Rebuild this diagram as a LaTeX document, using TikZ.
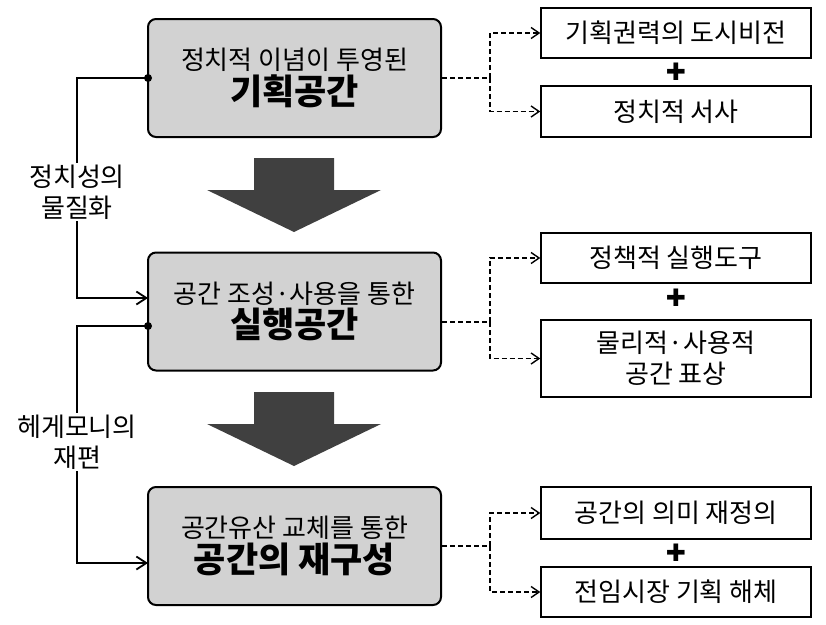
\documentclass[tikz,border=0pt]{standalone}
\usepackage{fontspec}
\setmainfont{Noto Sans CJK KR}
\newfontfamily\djv{DejaVu Sans}
\usetikzlibrary{arrows.meta}
\begin{document}
\begin{tikzpicture}[x=1pt,y=-1pt,
 main/.style={draw=black,line width=2pt,fill=gray!35,rounded corners=8pt,minimum width=293pt,minimum height=118pt,align=center,inner sep=0pt},
 side/.style={draw=black,line width=1.4pt,fill=white,minimum width=270pt,align=center,font=\fontsize{26}{31}\selectfont,inner sep=2pt},
 dline/.style={line width=1.4pt,dash pattern=on 5pt off 3pt},
 darr/.style={dline,-{Straight Barb[length=8pt,width=11pt]}},
 sline/.style={line width=1.8pt,-{Straight Barb[length=10pt,width=13pt]}},
 big/.style={fill=black!75},
 plus/.style={font=\djv\fontsize{24}{24}\selectfont,inner sep=0pt},
 lab/.style={fill=white,align=center,font=\fontsize{26}{31}\selectfont,inner sep=2pt}]
\useasboundingbox (0,0) rectangle (826,624);
\node[main] (b1) at (294.5,78) {\fontsize{26}{31}\selectfont 정치적 이념이 투영된\\[2pt]\fontsize{35}{38}\selectfont\bfseries 기획공간};
\node[main] (b2) at (294.5,311.5) {\fontsize{26}{31}\selectfont 공간 조성·사용을 통한\\[2pt]\fontsize{35}{38}\selectfont\bfseries 실행공간};
\node[main] (b3) at (294.5,546) {\fontsize{26}{31}\selectfont 공간유산 교체를 통한\\[2pt]\fontsize{35}{38}\selectfont\bfseries 공간의 재구성};
\node[side,minimum height=50pt] (r1) at (676,33) {기획권력의 도시비전};
\node[side,minimum height=51pt] (r2) at (676,111.5) {정치적 서사};
\node[side,minimum height=50pt] (r3) at (676,258) {정책적 실행도구};
\node[side,minimum height=77pt] (r4) at (676,358.5) {물리적·사용적\\공간 표상};
\node[side,minimum height=52pt] (r5) at (676,513) {공간의 의미 재정의};
\node[side,minimum height=50pt] (r6) at (676,592) {전임시장 기획 해체};
\node[plus] (p1) at (676,72) {✚};
\node[plus] (p2) at (676,298) {✚};
\node[plus] (p3) at (676,553) {✚};
\coordinate (j1) at (490,78);
\draw[dline] (b1.east|-j1) -- (j1);
\draw[darr] (j1) |- (r1.west);
\draw[darr] (j1) |- (r2.west);
\coordinate (j2) at (490,322);
\draw[dline] (b2.east|-j2) -- (j2);
\draw[darr] (j2) |- (r3.west);
\draw[darr] (j2) |- (r4.west);
\coordinate (j3) at (490,546);
\draw[dline] (b3.east|-j3) -- (j3);
\draw[darr] (j3) |- (r5.west);
\draw[darr] (j3) |- (r6.west);
\fill[big] (254,158) -- (334,158) -- (334,190) -- (381,190) -- (294,232) -- (207,190) -- (254,190) -- cycle;
\fill[big] (254,392) -- (334,392) -- (334,424) -- (381,424) -- (294,466) -- (207,424) -- (254,424) -- cycle;
\coordinate (s1) at (148,78);
\coordinate (e1) at (148,298);
\coordinate (s2) at (148,326);
\coordinate (e2) at (148,563);
\draw[sline] (s1) -- (77,78) -- (77,298) -- (e1);
\draw[sline] (s2) -- (77,326) -- (77,563) -- (e2);
\fill (s1) circle (4pt);
\fill (s2) circle (4pt);
\node[lab] (l1) at (77,192) {정치성의\\물질화};
\node[lab] (l2) at (77,442) {헤게모니의\\재편};
\end{tikzpicture}
\end{document}
